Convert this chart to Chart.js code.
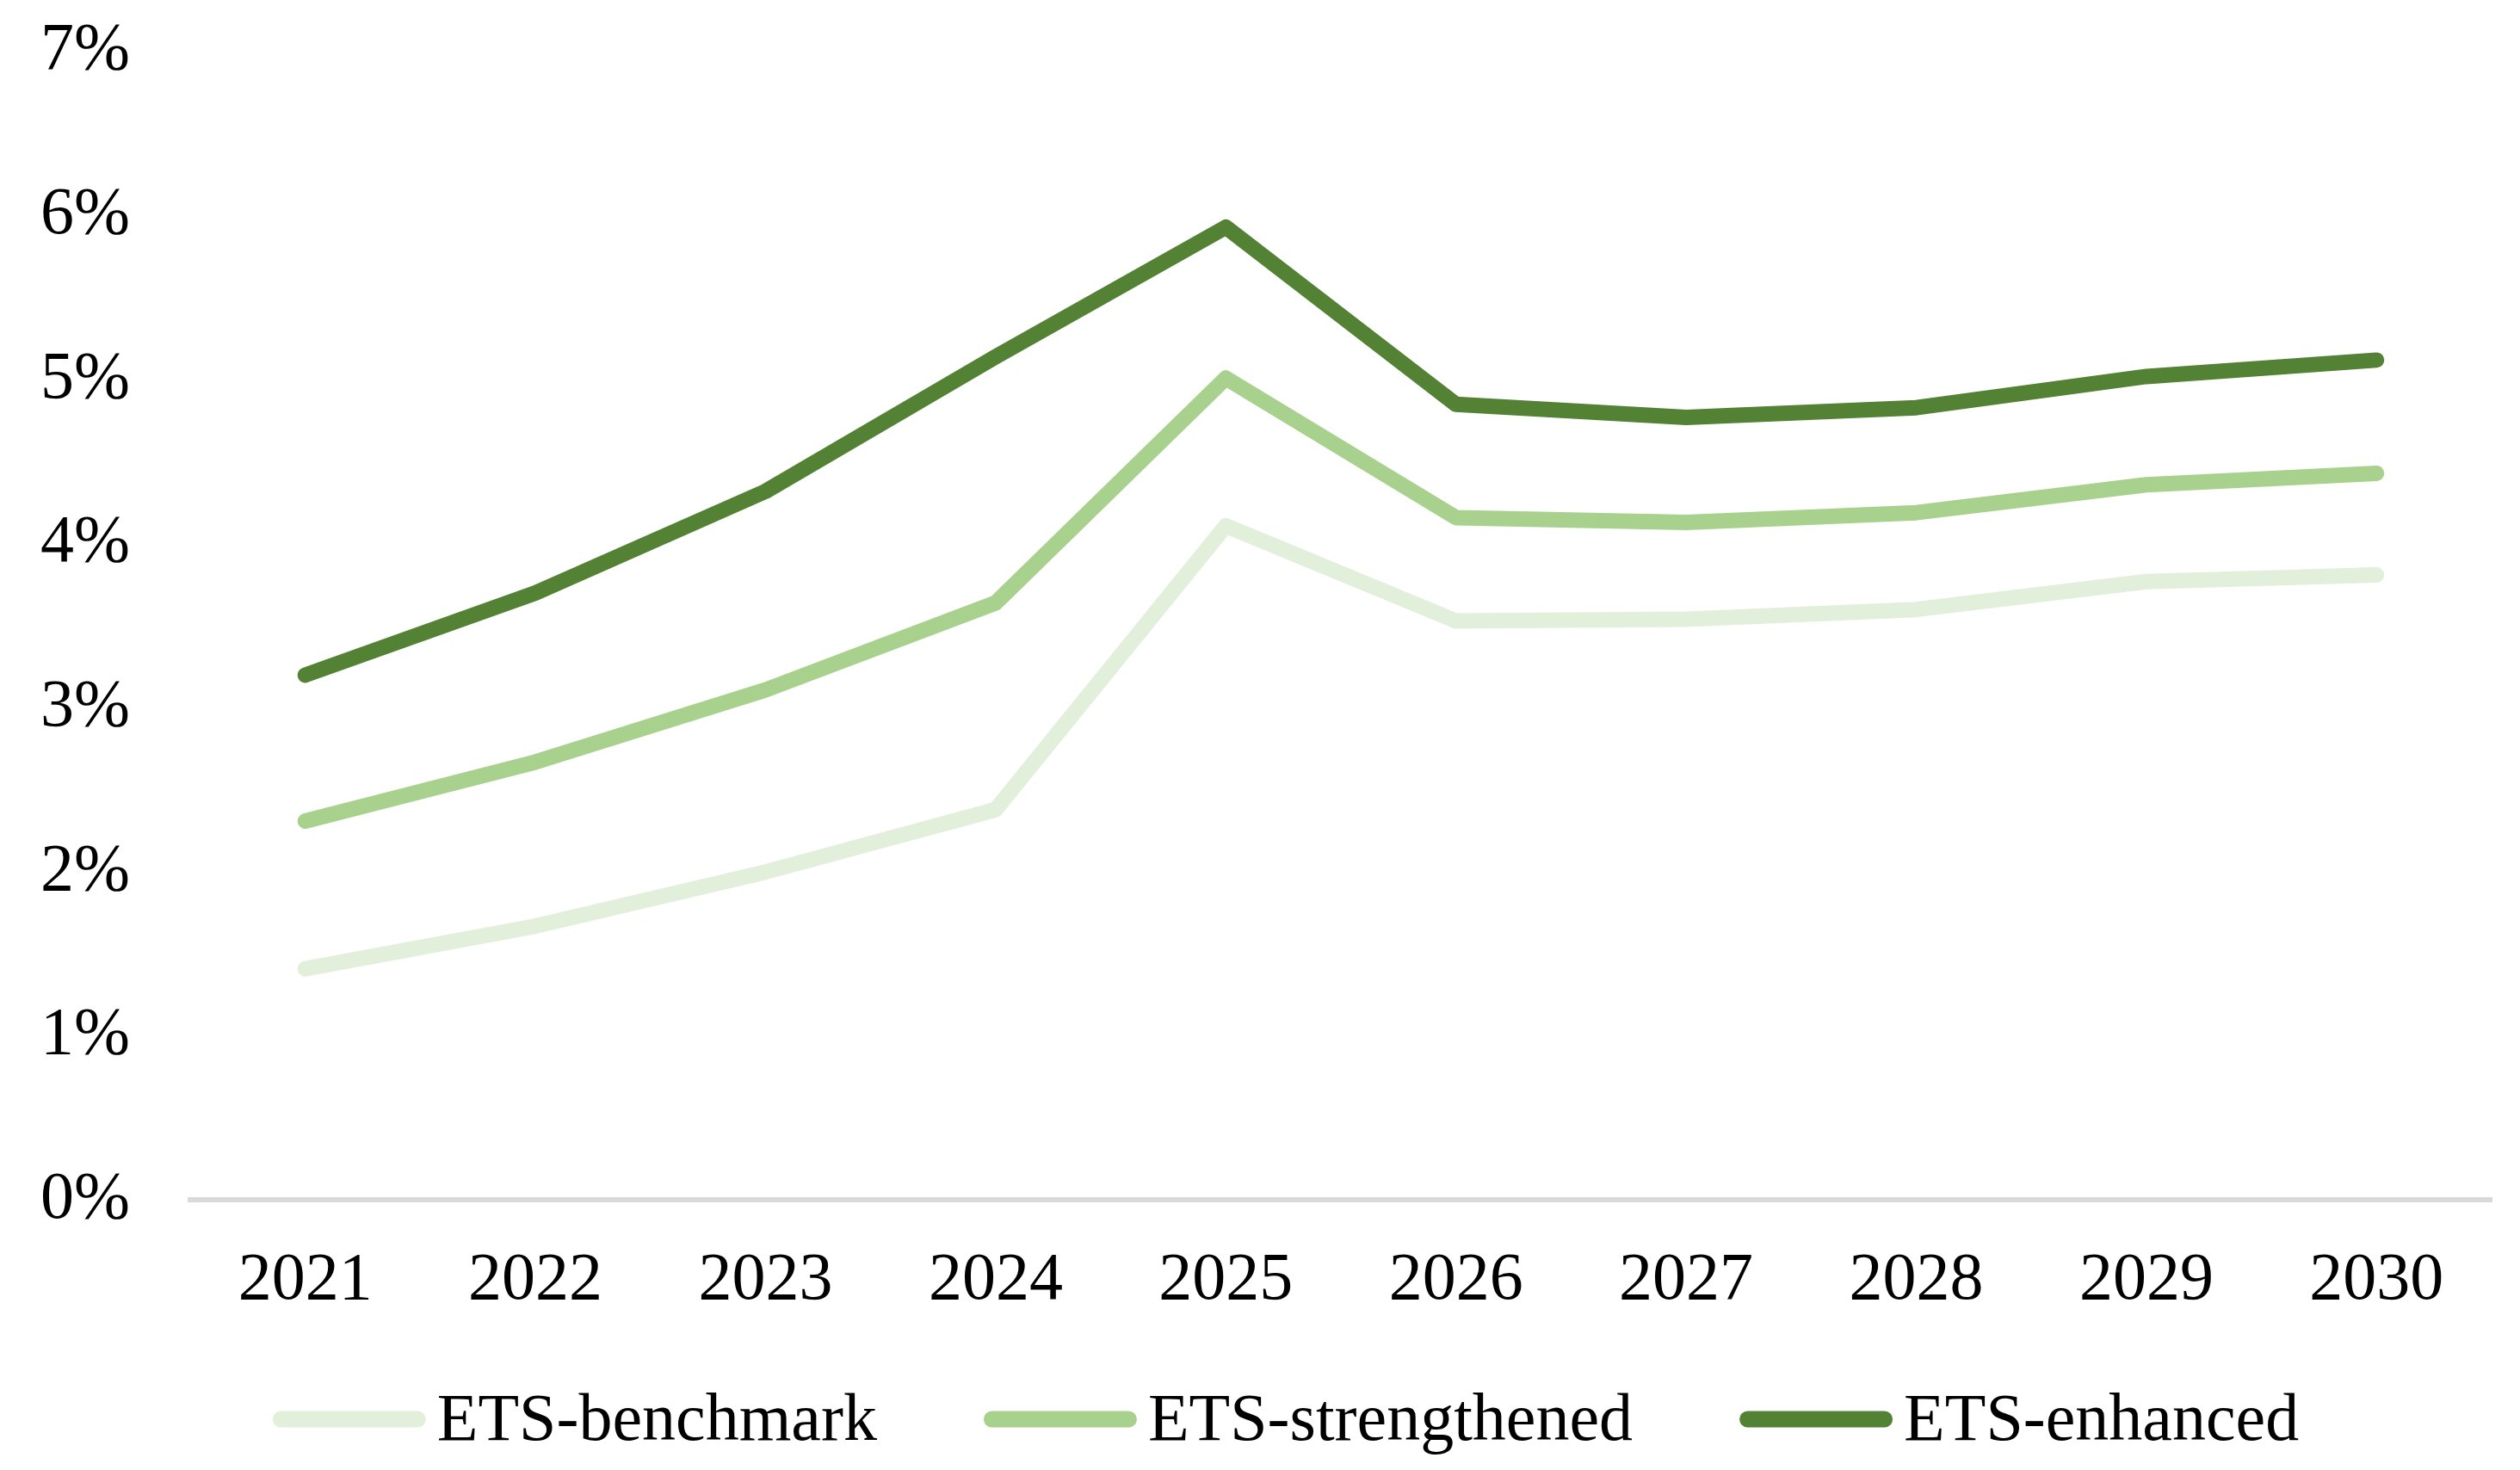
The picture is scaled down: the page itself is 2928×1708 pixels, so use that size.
<!DOCTYPE html>
<html>
<head>
<meta charset="utf-8">
<script src="https://cdn.jsdelivr.net/npm/chart.js@4"></script>
<style>
  html, body { margin: 0; padding: 0; background: #fff; }
  #wrap { width: 2928px; height: 1708px; }
</style>
</head>
<body>
<div id="wrap"><canvas id="ets"></canvas></div>
<script>
let years = ['2021', '2022', '2023', '2024', '2025', '2026', '2027', '2028', '2029', '2030']
let benchmark = [1.41, 1.67, 2.00, 2.38, 4.11, 3.53, 3.54, 3.60, 3.77, 3.81]
let strengthened = [2.31, 2.67, 3.11, 3.64, 5.01, 4.16, 4.13, 4.19, 4.36, 4.43]
let enhanced = [3.20, 3.70, 4.32, 5.14, 5.93, 4.85, 4.77, 4.83, 5.02, 5.12]
let seriesNames = ['ETS-benchmark', 'ETS-strengthened', 'ETS-enhanced']
let yTicks = [0, 1, 2, 3, 4, 5, 6, 7]

const font = "'Liberation Serif', 'Times New Roman', serif"
const fontSize = 78

function line(label, values, color) {
  return {
    label: label,
    data: values,
    borderColor: color,
    backgroundColor: color,
    borderWidth: 18,
    borderCapStyle: 'round',
    borderJoinStyle: 'round',
    pointRadius: 0,
    pointHoverRadius: 0,
    tension: 0,
    fill: false
  }
}

// legend drawn under the plot like the excel one: short thick line then text
const bottomLegend = {
  id: 'bottomLegend',
  afterDraw(chart) {
    const ctx = chart.ctx
    const items = chart.data.datasets
    const lineLen = 178, gap = 13, itemGap = 124
    ctx.save()
    ctx.font = fontSize + 'px ' + font
    let widths = items.map(d => lineLen + gap + ctx.measureText(d.label).width)
    let total = widths.reduce((a, b) => a + b, 0) + itemGap * (items.length - 1)
    let x = 1494 - total / 2
    let y = 1649
    items.forEach((d, i) => {
      ctx.strokeStyle = d.borderColor
      ctx.lineWidth = 19
      ctx.lineCap = 'round'
      ctx.beginPath()
      ctx.moveTo(x + 9.5, y)
      ctx.lineTo(x + lineLen - 9.5, y)
      ctx.stroke()
      ctx.fillStyle = '#000'
      ctx.textBaseline = 'alphabetic'
      ctx.textAlign = 'left'
      ctx.fillText(d.label, x + lineLen + gap, 1673)
      x += widths[i] + itemGap
    })
    ctx.restore()
  }
}

const config = {
  type: 'line',
  data: {
    labels: years,
    datasets: [
      line(seriesNames[0], benchmark, '#E2EFDA'),
      line(seriesNames[1], strengthened, '#A9D18E'),
      line(seriesNames[2], enhanced, '#548235')
    ]
  },
  options: {
    responsive: true,
    maintainAspectRatio: false,
    animation: false,
    layout: {
      padding: { left: -23, right: 33, top: 60, bottom: 126 }
    },
    plugins: {
      legend: { display: false },
      tooltip: { enabled: false }
    },
    scales: {
      x: {
        offset: true,
        grid: { display: false, drawTicks: false },
        border: { display: true, color: '#D9D9D9', width: 6 },
        ticks: {
          color: '#000',
          padding: 47,
          font: { family: font, size: fontSize }
        }
      },
      y: {
        min: yTicks[0],
        max: yTicks[yTicks.length - 1],
        grid: { display: false, drawTicks: false },
        border: { display: false },
        afterBuildTicks: function (axis) {
          axis.ticks = yTicks.map(v => ({ value: v }))
        },
        // the big tick padding should only push labels left, not the plot down
        afterFit: function (axis) {
          axis.paddingTop = 0
          axis.paddingBottom = 0
        },
        ticks: {
          color: '#000',
          padding: 70,
          font: { family: font, size: fontSize },
          callback: function (value) {
            return value + '%'
          }
        }
      }
    }
  },
  plugins: [bottomLegend]
}

let chart = new Chart(document.getElementById('ets'), config)
</script>
</body>
</html>
